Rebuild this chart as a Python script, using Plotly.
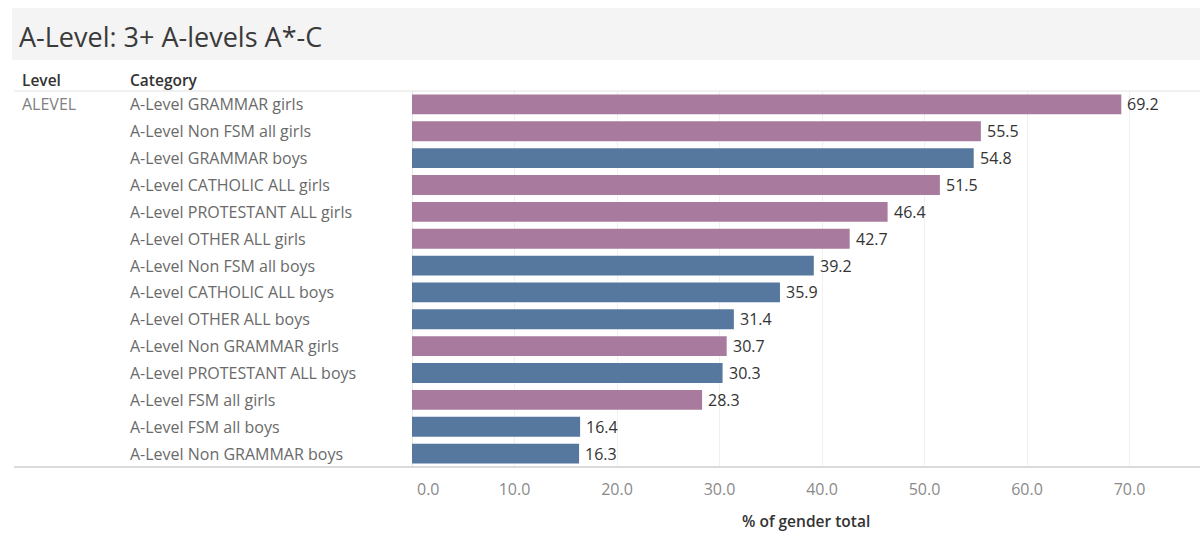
import plotly.graph_objects as go

# Category rows, top to bottom
categories = [
    "A-Level GRAMMAR girls",
    "A-Level Non FSM all girls",
    "A-Level GRAMMAR boys",
    "A-Level CATHOLIC ALL girls",
    "A-Level PROTESTANT ALL girls",
    "A-Level OTHER ALL girls",
    "A-Level Non FSM all boys",
    "A-Level CATHOLIC ALL boys",
    "A-Level OTHER ALL boys",
    "A-Level Non GRAMMAR girls",
    "A-Level PROTESTANT ALL boys",
    "A-Level FSM all girls",
    "A-Level FSM all boys",
    "A-Level Non GRAMMAR boys",
]
values = [69.2, 55.5, 54.8, 51.5, 46.4, 42.7, 39.2, 35.9, 31.4, 30.7, 30.3, 28.3, 16.4, 16.3]
genders = ["girls", "girls", "boys", "girls", "girls", "girls", "boys",
           "boys", "boys", "girls", "boys", "girls", "boys", "boys"]
level = "ALEVEL"
tick_values = [0, 10, 20, 30, 40, 50, 60, 70]
tick_labels = ["0.0", "10.0", "20.0", "30.0", "40.0", "50.0", "60.0", "70.0"]

colors = {"girls": "#a87b9e", "boys": "#56789f"}

W, H = 1200, 556
ML, MR, MT, MB = 412, 0, 91, 89
PW = W - ML - MR
PH = H - MT - MB


def px_x(p):
    return (p - ML) / PW


def px_y(p):
    return (H - MB - p) / PH


FONT = "Open Sans"

fig = go.Figure()
fig.add_trace(go.Bar(
    x=values,
    y=categories,
    orientation="h",
    marker=dict(color=[colors[g] for g in genders], line=dict(width=0)),
    width=0.74,
    hoverinfo="skip",
))

annotations = []
# Value labels just past the end of each bar
for c, v in zip(categories, values):
    annotations.append(dict(
        x=v, xref="x", y=c, yref="y", text=f"{v:.1f}",
        xanchor="left", yanchor="middle", showarrow=False, xshift=4,
        font=dict(family=FONT, size=16, color="#333333"),
    ))
# Row labels on the left
for c in categories:
    annotations.append(dict(
        x=px_x(128), xref="paper", y=c, yref="y", text=c,
        xanchor="left", yanchor="middle", showarrow=False,
        font=dict(family=FONT, size=16, color="#6a6a6a"),
    ))
annotations.append(dict(
    x=px_x(20), xref="paper", y=categories[0], yref="y", text=level,
    xanchor="left", yanchor="middle", showarrow=False,
    font=dict(family=FONT, size=16, color="#808080"),
))
# Column headers
for label, xp in [("Level", 20), ("Category", 128)]:
    annotations.append(dict(
        x=px_x(xp), xref="paper", y=px_y(80), yref="paper", text=label,
        xanchor="left", yanchor="middle", showarrow=False,
        font=dict(family=FONT, size=15.5, color="#333333", weight=600),
    ))
# Title
annotations.append(dict(
    x=px_x(17), xref="paper", y=px_y(36), yref="paper",
    text="A-Level: 3+ A-levels A*-C",
    xanchor="left", yanchor="middle", showarrow=False,
    font=dict(family=FONT, size=27, color="#3a3a3a"),
))
# First tick label sits just inside the axis start
annotations.append(dict(
    x=0, xref="x", y=px_y(489), yref="paper", text=tick_labels[0],
    xanchor="left", yanchor="middle", showarrow=False, xshift=3,
    font=dict(family=FONT, size=16, color="#8a8a8a"),
))
# Axis title
annotations.append(dict(
    x=0.5, xref="paper", y=px_y(521), yref="paper", text="% of gender total",
    xanchor="center", yanchor="middle", showarrow=False,
    font=dict(family=FONT, size=15.5, color="#333333", weight=600),
))

shapes = [
    # Title band
    dict(type="rect", xref="paper", yref="paper",
         x0=px_x(12), x1=1, y0=px_y(60), y1=px_y(8),
         fillcolor="#f4f4f4", line=dict(width=0), layer="below"),
    # Header rule
    dict(type="line", xref="paper", yref="paper",
         x0=px_x(14), x1=1, y0=1, y1=1, line=dict(color="#e2e2e2", width=1)),
    # Bottom rule
    dict(type="line", xref="paper", yref="paper",
         x0=px_x(14), x1=1, y0=0, y1=0, line=dict(color="#cfcfcf", width=1.5)),
]

fig.update_layout(
    width=W, height=H,
    margin=dict(l=ML, r=MR, t=MT, b=MB),
    paper_bgcolor="white", plot_bgcolor="white",
    showlegend=False,
    annotations=annotations,
    shapes=shapes,
    xaxis=dict(
        range=[0, (W - ML) / 10.25],
        tickvals=tick_values[1:], ticktext=tick_labels[1:],
        tickfont=dict(family=FONT, size=16, color="#8a8a8a"),
        ticklabelstandoff=11,
        showgrid=True, gridcolor="#f0f0f0", gridwidth=1,
        zeroline=True, zerolinecolor="#e6e6e6", zerolinewidth=1,
        ticks="", showline=False, fixedrange=True,
    ),
    yaxis=dict(
        categoryorder="array", categoryarray=categories,
        autorange="reversed", showticklabels=False, ticks="",
        showgrid=False, zeroline=False, showline=False,
    ),
)

fig.write_html("out.html")
